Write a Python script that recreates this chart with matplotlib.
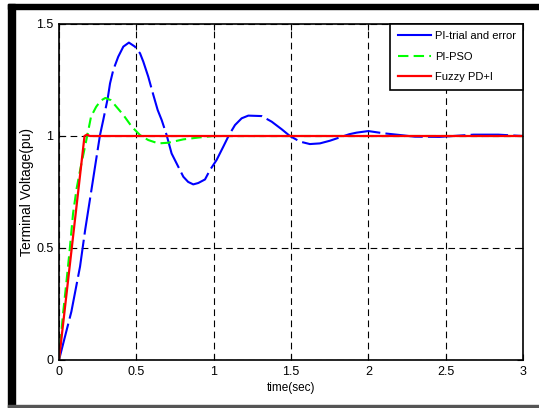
import numpy as np
import matplotlib.pyplot as plt
from matplotlib.patches import Rectangle
from matplotlib.lines import Line2D

plt.rcParams['font.family'] = ['Liberation Sans', 'DejaVu Sans']

# PI - trial and error
t_trial = [0, 0.08, 0.136, 0.169, 0.218, 0.233, 0.265, 0.286, 0.315, 0.33, 0.351,
           0.383, 0.416, 0.452, 0.491, 0.524, 0.545, 0.577, 0.61, 0.638, 0.664,
           0.696, 0.728, 0.771, 0.804, 0.835, 0.868, 0.9, 0.944, 0.976, 1.019,
           1.062, 1.099, 1.138, 1.181, 1.224, 1.31, 1.375, 1.44, 1.493, 1.558,
           1.622, 1.687, 1.752, 1.816, 1.877, 1.924, 2.0, 2.1, 2.21, 2.3, 2.46,
           2.68, 2.84, 3.0]
v_trial = [0, 0.216, 0.417, 0.58, 0.796, 0.863, 1.004, 1.071, 1.168, 1.235, 1.295,
           1.354, 1.399, 1.417, 1.399, 1.369, 1.332, 1.265, 1.183, 1.116, 1.071,
           1.004, 0.922, 0.863, 0.818, 0.795, 0.784, 0.79, 0.806, 0.848, 0.893,
           0.952, 1.004, 1.049, 1.079, 1.091, 1.089, 1.064, 1.03, 1.0, 0.975,
           0.964, 0.967, 0.979, 0.994, 1.008, 1.015, 1.022, 1.012, 1.004, 0.997, 0.996,
           1.006, 1.006, 1.0]

# PI - PSO
t_pso = [0, 0.024, 0.047, 0.069, 0.091, 0.114, 0.14, 0.168, 0.19, 0.207, 0.24,
         0.27, 0.3, 0.335, 0.362, 0.416, 0.47, 0.524, 0.577, 0.642, 0.707,
         0.804, 0.9, 1.0, 3.0]
v_pso = [0, 0.193, 0.342, 0.491, 0.655, 0.766, 0.86, 0.952, 1.027, 1.086, 1.13,
         1.158, 1.17, 1.16, 1.138, 1.094, 1.042, 1.004, 0.982, 0.967, 0.97,
         0.985, 0.993, 1.0, 1.0]

# Fuzzy PD+I
t_fuzzy = [0, 0.165, 0.18, 0.2, 3.0]
v_fuzzy = [0, 1.0, 1.006, 1.0, 1.0]

fig = plt.figure(figsize=(5.39, 4.08), dpi=100)
ax = fig.add_axes([59/539, 1 - 360/408, 464/539, 336/408])

ax.plot(t_trial, v_trial, color='#0000ff', lw=1.5, dashes=(18, 2.5), label='PI-trial and error')
ax.plot(t_pso, v_pso, color='#00ff00', lw=1.5, dashes=(5, 2.5), label='PI-PSO')
ax.plot(t_fuzzy, v_fuzzy, color='#ff0000', lw=1.6, label='Fuzzy PD+I')

ax.set_xlim(0, 3)
ax.set_ylim(0, 1.5)
ax.set_xticks(np.arange(0, 3.01, 0.5))
ax.set_xticklabels(['0', '0.5', '1', '1.5', '2', '2.5', '3'])
ax.set_yticks([0, 0.5, 1, 1.5])
ax.set_yticklabels(['0', '0.5', '1', '1.5'])
ax.tick_params(direction='in', labelsize=9, length=4, top=True, right=True, pad=4)
ax.grid(True, color='black', ls=(0, (6, 4)), lw=0.8)
for s in ax.spines.values():
    s.set_linewidth(1.2)

ax.set_xlabel('time(sec)', fontsize=8.5, labelpad=3)
ax.set_ylabel('Terminal Voltage(pu)', fontsize=10)
ax.yaxis.set_label_coords(-0.054, 0.5)

handles = [Line2D([], [], color='#0000ff', lw=1.5),
           Line2D([], [], color='#00ff00', lw=1.5, dashes=(5, 2.5)),
           Line2D([], [], color='#ff0000', lw=1.6)]
leg = ax.legend(handles, ['PI-trial and error', 'PI-PSO', 'Fuzzy PD+I'],
                loc='upper right', fontsize=8, fancybox=False, framealpha=1,
                edgecolor='black', borderaxespad=0, handlelength=3.0,
                handletextpad=0.35, borderpad=0.65, labelspacing=0.95)
leg.get_frame().set_linewidth(1.2)

# outer frame
fig.patches.append(Rectangle((8/539, 0), 7/539, 1 - 4/408, transform=fig.transFigure,
                             color='black', zorder=10))
fig.patches.append(Rectangle((8/539, 1 - 9/408), 1 - 8/539, 5/408, transform=fig.transFigure,
                             color='black', zorder=10))
fig.patches.append(Rectangle((8/539, 1.5/408), 1 - 8/539, 1.5/408, transform=fig.transFigure,
                             color='#555555', zorder=10))

fig.savefig('out.png', dpi=100)
